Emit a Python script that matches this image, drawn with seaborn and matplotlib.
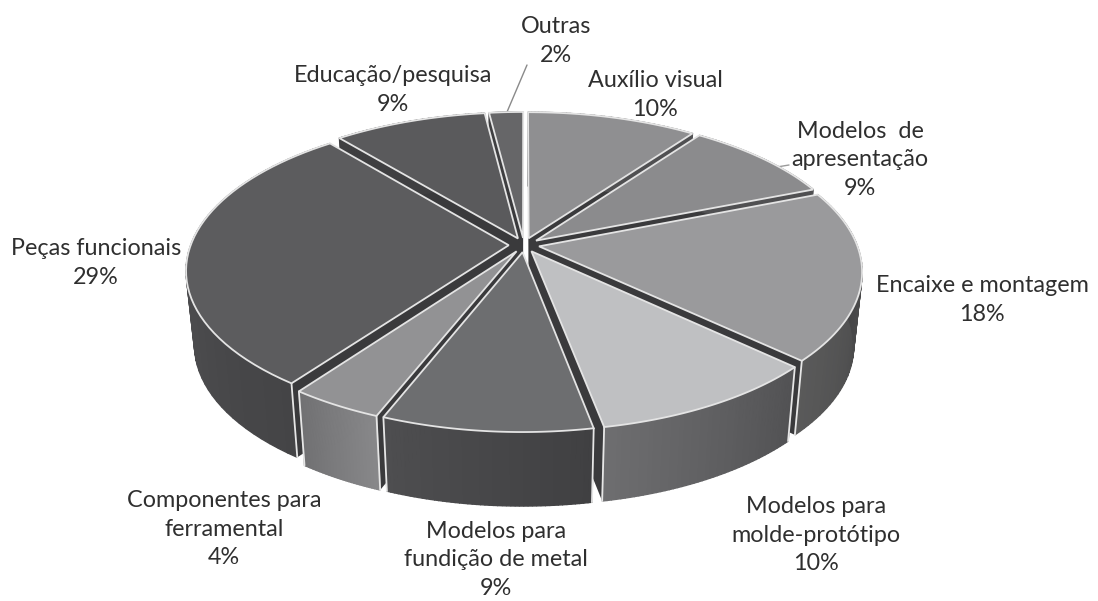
import numpy as np
import matplotlib
matplotlib.use("Agg")
import matplotlib.pyplot as plt
import seaborn as sns
from matplotlib.colors import to_rgb

categories = ["Auxílio visual", "Modelos  de\napresentação", "Encaixe e montagem",
              "Modelos para\nmolde-protótipo", "Modelos para\nfundição de metal",
              "Componentes para\nferramental", "Peças funcionais",
              "Educação/pesquisa", "Outras"]
values = [10, 9, 18, 10, 9, 4, 29, 9, 2]
top_colors = ["#8f8f91", "#8b8b8d", "#9a9a9c", "#bfc0c2", "#6d6e70",
              "#929294", "#5c5c5e", "#5a5a5c", "#666668"]
side_start = ["#505052", "#505052", "#5a5a5a", "#6e6e70", "#4e4e50",
              "#707072", "#5a5a5c", "#3f3f41", "#3f3f41"]
side_end = ["#505052", "#505052", "#3c3c3e", "#525254", "#404042",
            "#88888a", "#444446", "#3f3f41", "#3f3f41"]
label_pos = [(655, 95), (860, 160), (982, 300), (816, 535), (496, 560),
             (224, 529), (96, 263), (393, 90), (556, 41)]

CX, CY, A, B, K = 524.0, 245.0, 148.4, 318.0, 0.161
DEPTH, SHRINK = 74.0, 0.975
EXPLODE = 0.048


def project(u, v):
    w = 1 + K * v
    return CX + B * u / w, CY - A * v / w


def lower(x, y):
    return CX + (x - CX) * SHRINK, y + DEPTH


sns.set_theme(style="white")
plt.rcParams["font.family"] = ["Lato", "DejaVu Sans"]
fig, ax = plt.subplots(figsize=(10.98, 6.01), dpi=100)
ax.set_position([0, 0, 1, 1])

wedges, _ = ax.pie(values, startangle=90, counterclock=False,
                   explode=[EXPLODE] * len(values), radius=1.0)
shapes = []
for i, w in enumerate(wedges):
    t = np.radians(np.linspace(w.theta1, w.theta2, 50))
    cu, cv = w.center
    au, av = cu + w.r * np.cos(t), cv + w.r * np.sin(t)
    mid = np.radians((w.theta1 + w.theta2) / 2)
    shapes.append((np.sin(mid), i, (cu, cv), au, av))
    w.remove()

ax.set_aspect("auto")
ax.set_xlim(0, 1098)
ax.set_ylim(601, 0)
ax.axis("off")

for _, i, (cu, cv), au, av in sorted(shapes, key=lambda s: -s[0]):
    px, py = project(au, av)
    ox, oy = project(cu, cv)
    bx, by = lower(px, py)
    lox, loy = lower(ox, oy)
    s0, s1 = np.array(to_rgb(side_start[i])), np.array(to_rgb(side_end[i]))
    for ex, ey in ((px[0], py[0]), (px[-1], py[-1])):
        lx, ly = lower(ex, ey)
        ax.fill([ox, ex, lx, lox], [oy, ey, ly, loy], color="#3a3a3c", lw=0, zorder=2)
    for j in range(len(px) - 1):
        f = (j + 0.5) / (len(px) - 1)
        c = s0 * (1 - f) + s1 * f
        ax.fill([px[j], px[j + 1], bx[j + 1], bx[j]],
                [py[j], py[j + 1], by[j + 1], by[j]],
                color=c, lw=1.0, ec=c, zorder=2)
    for k in (0, -1):
        if av[k] < 0.1:
            ax.plot([px[k], bx[k]], [py[k], by[k]], color="#e6e6e6", lw=1.3, zorder=2)
    ax.fill(np.r_[ox, px], np.r_[oy, py], fc=top_colors[i], ec="#e4e4e4", lw=1.3,
            joinstyle="miter", zorder=2)

# leader lines
ax.plot([527, 507], [65, 112], color="#8a8a8a", lw=1, zorder=1)
ax.plot([777, 789], [167, 165], color="#9a9a9a", lw=1, zorder=1)

for name, val, (x, y) in zip(categories, values, label_pos):
    ax.text(x, y, f"{name}\n{val}%", ha="center", va="center", fontsize=16.8,
            color="#2f2f2f", linespacing=1.47, zorder=5)

fig.savefig("out.png", dpi=100, facecolor="white")
